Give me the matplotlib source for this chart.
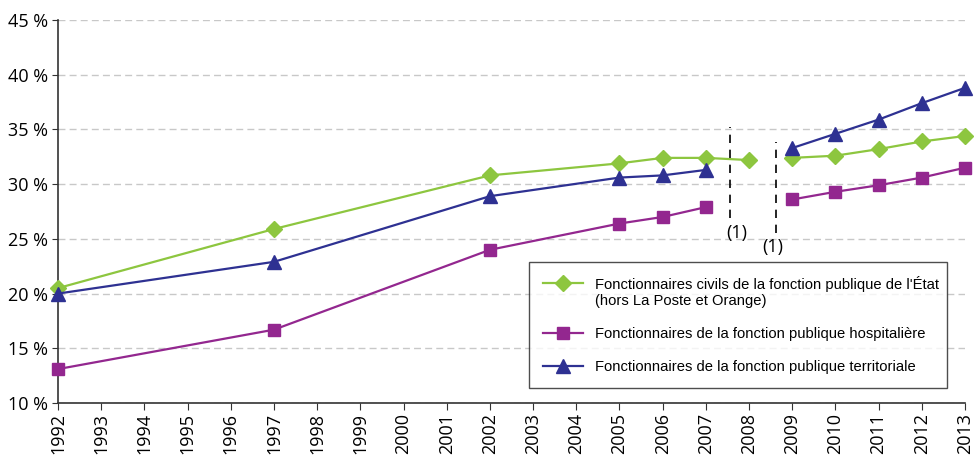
import matplotlib
matplotlib.use("Agg")
import matplotlib.pyplot as plt
from matplotlib.legend_handler import HandlerLine2D
import numpy as np

# data (values in %)
years = list(range(1992, 2014))
etat_years = [1992, 1997, 2002, 2005, 2006, 2007, 2008, 2009, 2010, 2011, 2012, 2013]
etat = [20.5, 25.9, 30.8, 31.9, 32.4, 32.4, 32.2, 32.4, 32.6, 33.2, 33.9, 34.4]
hosp_years = [1992, 1997, 2002, 2005, 2006, 2007, 2009, 2010, 2011, 2012, 2013]
hosp = [13.1, 16.7, 24.0, 26.4, 27.0, 27.9, 28.6, 29.3, 29.9, 30.6, 31.5]
terr_years = [1992, 1997, 2002, 2005, 2006, 2007, 2009, 2010, 2011, 2012, 2013]
terr = [20.0, 22.9, 28.9, 30.6, 30.8, 31.3, 33.3, 34.6, 35.9, 37.4, 38.8]
# series break between 2008 and 2009 for the green line
etat_break = 2008

labels = ["Fonctionnaires civils de la fonction publique de l'État\n(hors La Poste et Orange)",
          "Fonctionnaires de la fonction publique hospitalière",
          "Fonctionnaires de la fonction publique territoriale"]
yticks = [10, 15, 20, 25, 30, 35, 40, 45]

green = '#8dc63f'
purple = '#93278f'
navy = '#2e3192'

plt.rcParams['font.family'] = ['Open Sans', 'DejaVu Sans']

fig = plt.figure(figsize=(9.76, 4.59), dpi=100)
ax = fig.add_axes([58/976, 56/459, 907/976, 383/459])


def split(xs, ys, brk):
    xs = np.array(xs, dtype=float)
    ys = np.array(ys, dtype=float)
    i = np.searchsorted(xs, brk, side='right')
    return (xs[:i], ys[:i]), (xs[i:], ys[i:])


class ShiftedHandler(HandlerLine2D):
    # put the legend handle on the first line of a two-line label
    def __init__(self, shift, **kw):
        super().__init__(**kw)
        self.shift = shift

    def create_artists(self, legend, orig_handle, xdescent, ydescent,
                       width, height, fontsize, trans):
        arts = super().create_artists(legend, orig_handle, xdescent, ydescent,
                                      width, height, fontsize, trans)
        for a in arts:
            a.set_ydata(np.asarray(a.get_ydata()) + self.shift)
        return arts


# green: break after 2008
(a, b), (c, d) = split(etat_years, etat, etat_break)
l1, = ax.plot(a, b, color=green, lw=1.6, marker='D', ms=8, clip_on=False, zorder=3)
ax.plot(c, d, color=green, lw=1.6, marker='D', ms=8, clip_on=False, zorder=3)

(a, b), (c, d) = split(hosp_years, hosp, 2007)
l2, = ax.plot(a, b, color=purple, lw=1.6, marker='s', ms=8, clip_on=False, zorder=3)
ax.plot(c, d, color=purple, lw=1.6, marker='s', ms=8, clip_on=False, zorder=3)

(a, b), (c, d) = split(terr_years, terr, 2007)
l3, = ax.plot(a, b, color=navy, lw=1.6, marker='^', ms=10, clip_on=False, zorder=4)
ax.plot(c, d, color=navy, lw=1.6, marker='^', ms=10, clip_on=False, zorder=4)

# vertical break markers
ax.plot([2007.56, 2007.56], [26.9, 35.2], color='black', lw=1.2, ls=(0, (5, 4)))
ax.plot([2008.62, 2008.62], [25.5, 33.85], color='black', lw=1.2, ls=(0, (5, 4)))
ax.text(2007.72, 25.5, "(1)", ha='center', va='center', fontsize=13)
ax.text(2008.55, 24.25, "(1)", ha='center', va='center', fontsize=13)

ax.set_xlim(1992, 2013)
ax.set_ylim(10, 45)
ax.set_xticks(years)
ax.set_xticklabels([str(y) for y in years], rotation=90, fontsize=13)
ax.set_yticks(yticks)
ax.set_yticklabels([f"{v} %" for v in yticks], fontsize=13)
ax.yaxis.grid(True, color='#c8c8c8', ls=(0, (5, 3)), lw=1)
ax.set_axisbelow(True)
for s in ['top', 'right']:
    ax.spines[s].set_visible(False)
ax.spines['left'].set_color('#333333')
ax.spines['bottom'].set_color('#333333')
ax.spines['left'].set_linewidth(1.2)
ax.spines['bottom'].set_linewidth(1.2)
ax.tick_params(axis='x', direction='out', length=5, color='#333333', pad=2)
ax.tick_params(axis='y', direction='out', length=4, color='#333333', pad=3)

leg = ax.legend([l1, l2, l3], labels, loc='upper left', mode='expand',
                bbox_to_anchor=((529 - 58) / 907, (403 - 262) / 383, (947 - 529) / 907, 0.0),
                frameon=True, fancybox=False, edgecolor='#222222',
                prop={'family': ['Liberation Sans', 'DejaVu Sans'], 'size': 10.6},
                handlelength=2.75, labelspacing=1.3, borderpad=0.95, handletextpad=0.75,
                borderaxespad=0, handler_map={l1: ShiftedHandler(6.5)})
leg.get_frame().set_linewidth(1.0)

fig.savefig("out.png", dpi=100)
